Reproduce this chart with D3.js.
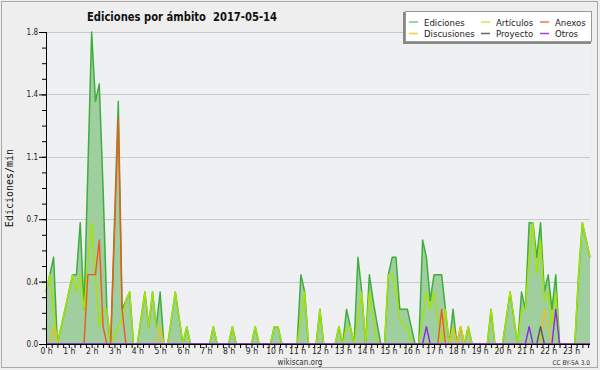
<!DOCTYPE html>
<html><head><meta charset="utf-8">
<script src="https://cdn.jsdelivr.net/npm/d3@7"></script>
<style>body{margin:0;background:#eeeeee;}</style>
</head><body>
<svg id="c" width="600" height="370"></svg>
<script>
const title = "Ediciones por ámbito  2017-05-14";
const yLabel = "Ediciones/min";
const seriesNames = ["Ediciones", "Artículos", "Anexos", "Discusiones", "Proyecto", "Otros"];
const seriesColors = ["#3fae3f", "#a6e400", "#f2581c", "#e8c21a", "#555555", "#8a2be2"];
const legendColors = ["#77cc77", "#ccee44", "#ee7744", "#eecc44", "#666666", "#9944ee"];
const hourLabels = ["0 h","1 h","2 h","3 h","4 h","5 h","6 h","7 h","8 h","9 h","10 h","11 h",
  "12 h","13 h","14 h","15 h","16 h","17 h","18 h","19 h","20 h","21 h","22 h","23 h"];
const yTickValues = [0, 0.36, 0.72, 1.08, 1.44, 1.8];
const yTickLabels = ["0.0", "0.4", "0.7", "1.1", "1.4", "1.8"];

// 10-minute bins, 144 per day (edits per minute)
const ediciones = [
  0.3,0.4,0.5,0,0.1,0.2,0.3,0.4,0.4,0.7,0.2,1.0,
  1.8,1.4,1.5,0.9,0.2,0,0.7,1.4,0.2,0.25,0.3,0,
  0,0.15,0.3,0.1,0.3,0.1,0.3,0,0,0.15,0.3,0.15,
  0,0.1,0,0,0,0,0,0,0.1,0,0,0,
  0,0.1,0,0,0,0,0,0.1,0,0,0,0,
  0.1,0.1,0,0,0,0,0,0.4,0.3,0,0,0,
  0.2,0,0,0,0,0.1,0,0.2,0.1,0,0.5,0.3,
  0,0.4,0.25,0.12,0,0,0.4,0.5,0.5,0.2,0.2,0.2,
  0.1,0,0,0.6,0.5,0.25,0.4,0.4,0.4,0.2,0,0.2,
  0,0.1,0,0.1,0,0,0,0,0,0.2,0,0,
  0,0.15,0.3,0.15,0,0.3,0.2,0.7,0.7,0.5,0.7,0.3,
  0.4,0.2,0.4,0,0,0,0,0,0.4,0.7,0.6,0.5
];
const articulos = [
  0.3,0.4,0.2,0,0.1,0.2,0.3,0.4,0.3,0.4,0.2,0.45,
  0.7,0.4,0.1,0.2,0.2,0,0.05,0.1,0.15,0.25,0.3,0,
  0,0.15,0.3,0.1,0.3,0.1,0.1,0,0,0.15,0.3,0.15,
  0,0.1,0,0,0,0,0,0,0.1,0,0,0,
  0,0.1,0,0,0,0,0,0.1,0,0,0,0,
  0.1,0.1,0,0,0,0,0,0.15,0.3,0,0,0,
  0.2,0,0,0,0,0.1,0,0.1,0.1,0,0.15,0.3,
  0,0.3,0.15,0,0,0,0.4,0.4,0.3,0.15,0.1,0.1,
  0,0,0,0.15,0.3,0.2,0.3,0.15,0,0.2,0,0.1,
  0,0.1,0,0.1,0,0,0,0,0,0.2,0,0,
  0,0.15,0.3,0.15,0,0.2,0.2,0.5,0.7,0.4,0.6,0.25,
  0.3,0.1,0.3,0,0,0,0,0,0.4,0.7,0.6,0.5
];
const anexos = [
  0,0,0,0,0,0,0,0,0,0,0,0.4,
  0.4,0.4,0.6,0.1,0,0,0.65,1.3,0.2,0,0,0,
  0,0,0,0,0,0,0,0,0,0,0,0,
  0,0,0,0,0,0,0,0,0,0,0,0,
  0,0,0,0,0,0,0,0,0,0,0,0,
  0,0,0,0,0,0,0,0,0,0,0,0,
  0,0,0,0,0,0,0,0,0,0,0,0,
  0,0,0,0,0,0,0,0,0,0,0,0,
  0,0,0,0,0,0,0,0,0.2,0,0,0,
  0,0,0,0,0,0,0,0,0,0,0,0,
  0,0,0,0,0,0,0,0,0,0,0,0,
  0,0,0,0,0,0,0,0,0,0,0,0
];
const discusiones = [
  0,0,0.1,0,0,0,0,0,0,0,0,0,
  0,0,0,0,0,0,0,0,0,0,0,0,
  0,0,0,0,0,0,0.1,0,0,0,0,0,
  0,0,0,0,0,0,0,0,0,0,0,0,
  0,0,0,0,0,0,0,0,0,0,0,0,
  0,0,0,0,0,0,0,0,0,0,0,0,
  0,0,0,0,0,0,0,0,0,0,0,0,
  0,0,0,0,0,0,0,0,0,0,0,0,
  0,0,0,0,0,0,0,0,0,0,0,0.1,
  0,0.1,0,0,0,0,0,0,0,0,0,0,
  0,0,0,0,0,0,0,0,0,0,0,0.2,
  0.1,0,0,0,0,0,0,0,0,0,0,0
];
const proyecto = [
  0,0,0,0,0,0,0,0,0,0,0,0,
  0,0,0,0,0,0,0,0,0,0,0,0,
  0,0,0,0,0,0,0,0,0,0,0,0,
  0,0,0,0,0,0,0,0,0,0,0,0,
  0,0,0,0,0,0,0,0,0,0,0,0,
  0,0,0,0,0,0,0,0,0,0,0,0,
  0,0,0,0,0,0,0,0,0,0,0,0,
  0,0,0,0,0,0,0,0,0,0,0,0,
  0,0,0,0,0,0,0,0,0,0,0,0,
  0,0,0,0,0,0,0,0,0,0,0,0,
  0,0,0,0,0,0,0,0,0,0,0.1,0,
  0,0,0,0,0,0,0,0,0,0,0,0
];
const otros = [
  0,0,0,0,0,0,0,0,0,0,0,0,
  0,0,0,0,0,0,0,0,0,0,0,0,
  0,0,0,0,0,0,0,0,0,0,0,0,
  0,0,0,0,0,0,0,0,0,0,0,0,
  0,0,0,0,0,0,0,0,0,0,0,0,
  0,0,0,0,0,0,0,0,0,0,0,0,
  0,0,0,0,0,0,0,0,0,0,0,0,
  0,0,0,0,0,0,0,0,0,0,0,0,
  0,0,0,0,0.1,0,0,0,0,0,0,0,
  0,0,0,0,0,0,0,0,0,0,0,0,
  0,0,0,0,0,0,0,0.1,0,0,0,0,
  0,0,0.2,0,0,0,0,0,0,0,0,0
];

const lineSeries = [articulos, anexos, discusiones, proyecto, otros];

const svg = d3.select("#c");
const L = 46, R = 590, T = 32, B = 344;
const x = d3.scaleLinear().domain([0, 143]).range([L, R]);
const y = d3.scaleLinear().domain([0, 1.8]).range([B, T]);
const FONT = "'DejaVu Sans Condensed', 'DejaVu Sans', sans-serif";

svg.append("rect").attr("x", 0).attr("y", 0).attr("width", 600).attr("height", 370).attr("fill", "#eeeeee");
svg.append("rect").attr("x", 1.5).attr("y", 1.5).attr("width", 596).attr("height", 366)
  .attr("fill", "none").attr("stroke", "#a8a8a8");
svg.append("rect").attr("x", L).attr("y", T).attr("width", R - L).attr("height", B - T).attr("fill", "#eff0f1");

// grid
svg.append("g").selectAll("line").data(yTickValues.slice(1)).join("line")
  .attr("x1", L).attr("x2", R).attr("y1", d => Math.round(y(d)) + 0.5).attr("y2", d => Math.round(y(d)) + 0.5)
  .attr("stroke", "#c9c9c9").attr("stroke-width", 1);

// total area
const area = d3.area().x((d, i) => x(i)).y0(y(0)).y1(d => y(d));
const line = d3.line().x((d, i) => x(i)).y(d => y(d));
svg.append("path").datum(ediciones).attr("d", area).attr("fill", "#9fce9f");
svg.append("path").datum(ediciones).attr("d", line).attr("fill", "none")
  .attr("stroke", seriesColors[0]).attr("stroke-width", 1.5).attr("stroke-linejoin", "round");
lineSeries.forEach((s, k) => {
  svg.append("path").datum(s).attr("d", line).attr("fill", "none")
    .attr("stroke", seriesColors[k + 1]).attr("stroke-width", 1.4).attr("stroke-linejoin", "round");
});

// axes
const yMinor = d3.range(0, 1.8001, 0.09);
const yMinorAxis = d3.axisLeft(y).tickValues(yMinor).tickSize(4).tickFormat("");
const yAxis = d3.axisLeft(y).tickValues(yTickValues).tickSize(7).tickPadding(1)
  .tickFormat((d, i) => yTickLabels[i]);
const gyM = svg.append("g").attr("transform", `translate(${L},0)`).call(yMinorAxis);
gyM.select(".domain").remove();
const gy = svg.append("g").attr("transform", `translate(${L},0)`).call(yAxis);
gy.select(".domain").attr("d", `M0.5,${T}V${B}`).attr("stroke", "#000");
gy.selectAll("text").attr("font-family", FONT).attr("font-size", 8).attr("fill", "#222");

const quarterBins = d3.range(0, 143.01, 1.5);
const xAxis = d3.axisBottom(x).tickValues(quarterBins).tickSize(4)
  .tickFormat(d => (d % 6 === 0 ? hourLabels[d / 6] : ""));
const gx = svg.append("g").attr("transform", `translate(0,${B})`).call(xAxis);
gx.select(".domain").attr("d", `M${L},0.5H${R}`).attr("stroke", "#000");
gx.selectAll("text").attr("font-family", FONT).attr("font-size", 8.5).attr("fill", "#222")
  .attr("y", 9.5).attr("dy", 0);

// titles
svg.append("text").attr("x", 182).attr("y", 21).attr("text-anchor", "middle")
  .style("white-space", "pre").attr("textLength", 190).attr("lengthAdjust", "spacingAndGlyphs")
  .attr("font-family", FONT).attr("font-weight", "bold").attr("font-size", 12.5).attr("fill", "#111").text(title);
svg.append("text").attr("transform", "translate(13,188) rotate(-90)").attr("text-anchor", "middle")
  .attr("font-family", "'DejaVu Sans Mono', monospace").attr("font-size", 10).attr("fill", "#111").text(yLabel);
svg.append("text").attr("x", 300).attr("y", 365).attr("text-anchor", "middle")
  .attr("font-family", FONT).attr("font-size", 8).attr("fill", "#333").text("wikiscan.org");
svg.append("text").attr("x", 590).attr("y", 365).attr("text-anchor", "end")
  .attr("font-family", FONT).attr("font-size", 6.5).attr("fill", "#333").text("CC BY-SA 3.0");

// legend
const lg = svg.append("g");
lg.append("rect").attr("x", 403).attr("y", 12).attr("width", 188).attr("height", 32).attr("fill", "#888");
lg.append("rect").attr("x", 405.5).attr("y", 11.5).attr("width", 186).attr("height", 30).attr("fill", "#fff").attr("stroke", "#999");
const colX = [409, 481, 540];
const rowY = [22, 33.5];
seriesNames.forEach((n, k) => {
  const cx = colX[k % 3], cy = rowY[Math.floor(k / 3)];
  lg.append("line").attr("x1", cx).attr("x2", cx + 9).attr("y1", cy).attr("y2", cy)
    .attr("stroke", legendColors[k]).attr("stroke-width", 1.5);
  lg.append("text").attr("x", cx + 15).attr("y", cy + 3.5).attr("font-family", FONT)
    .attr("font-size", 9.5).attr("fill", "#222").text(n);
});
</script>
</body></html>
